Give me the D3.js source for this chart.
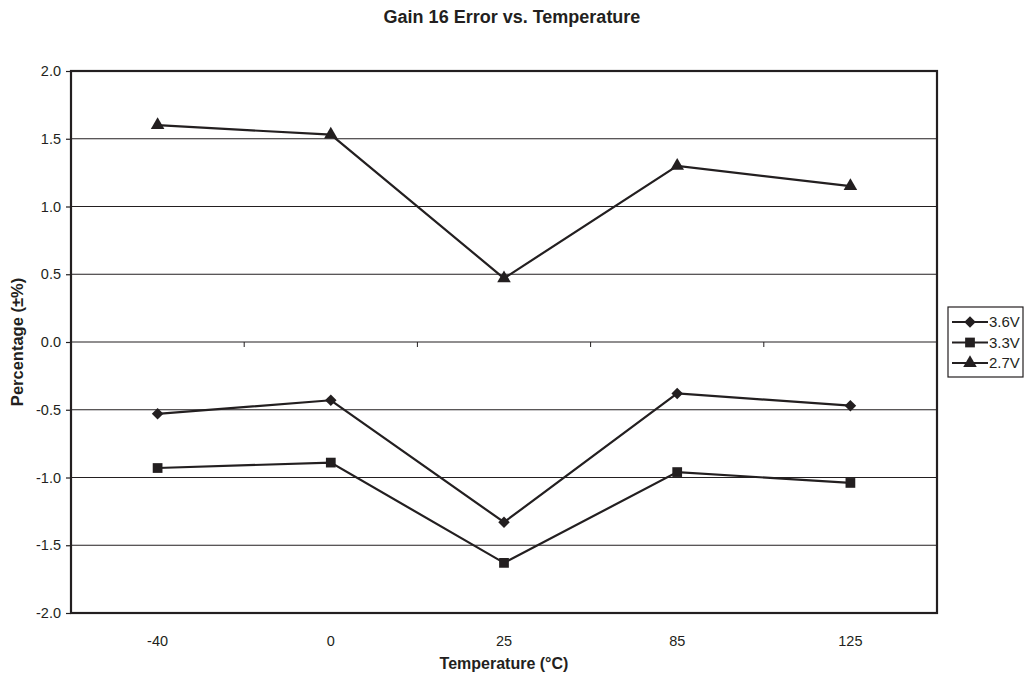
<!DOCTYPE html>
<html>
<head>
<meta charset="utf-8">
<script src="https://cdn.jsdelivr.net/npm/d3@7"></script>
<style>
  body { margin: 0; background: #fff; }
  svg { display: block; font-family: "Liberation Sans", Arial, Helvetica, sans-serif; }
</style>
</head>
<body>
<svg id="chart" width="1026" height="680"></svg>
<script>
const categories = ["-40", "0", "25", "85", "125"];
const seriesNames = ["3.6V", "3.3V", "2.7V"];
const v36 = [-0.53, -0.43, -1.33, -0.38, -0.47];
const v33 = [-0.93, -0.89, -1.63, -0.96, -1.04];
const v27 = [1.60, 1.53, 0.47, 1.30, 1.15];
const yTicks = [-2.0, -1.5, -1.0, -0.5, 0.0, 0.5, 1.0, 1.5, 2.0];

const series = [
  { name: seriesNames[0], values: v36, symbol: d3.symbolDiamond2, size: 85 },
  { name: seriesNames[1], values: v33, symbol: d3.symbolSquare, size: 95 },
  { name: seriesNames[2], values: v27, symbol: d3.symbolTriangle, size: 80 }
];

const ink = "#231f20";
const svg = d3.select("#chart");
const m = { left: 71, right: 937, top: 71, bottom: 613 };

const x = d3.scaleBand().domain(categories).range([m.left, m.right]);
const y = d3.scaleLinear().domain([-2, 2]).range([m.bottom, m.top]);

// gridlines
svg.append("g").selectAll("line").data(yTicks.slice(1, -1)).join("line")
  .attr("x1", m.left).attr("x2", m.right)
  .attr("y1", d => y(d)).attr("y2", d => y(d))
  .attr("stroke", ink).attr("stroke-width", 1.2);

// y axis
const fmt = d => d3.format(".1f")(d).replace("\u2212", "-");
const yAxis = d3.axisLeft(y).tickValues(yTicks).tickFormat(fmt).tickSize(5).tickSizeOuter(0);
const gy = svg.append("g").attr("transform", `translate(${m.left},0)`).call(yAxis);
gy.select(".domain").remove();
gy.selectAll("line").attr("stroke", ink).attr("stroke-width", 1.2);
gy.selectAll("text").attr("font-size", 14.5).attr("fill", ink).attr("x", -10);

// category axis along zero line: ticks at band boundaries
const bounds = categories.slice(1).map(c => x(c));
svg.append("g").selectAll("line").data(bounds).join("line")
  .attr("x1", d => d).attr("x2", d => d)
  .attr("y1", y(0)).attr("y2", y(0) + 5)
  .attr("stroke", ink).attr("stroke-width", 1);

// category labels at bottom
const xAxis = d3.axisBottom(x).tickSize(0);
const gx = svg.append("g").attr("transform", `translate(0,${m.bottom})`).call(xAxis);
gx.select(".domain").remove();
gx.selectAll("text").attr("font-size", 14.5).attr("fill", ink).attr("y", 33).attr("dy", 0);

// plot frame
svg.append("rect")
  .attr("x", m.left).attr("y", m.top)
  .attr("width", m.right - m.left).attr("height", m.bottom - m.top)
  .attr("fill", "none").attr("stroke", ink).attr("stroke-width", 2.2);

// series
const line = d3.line().x((d, i) => x(categories[i]) + x.bandwidth() / 2).y(d => y(d));
series.forEach(s => {
  svg.append("path").datum(s.values).attr("d", line)
    .attr("fill", "none").attr("stroke", ink).attr("stroke-width", 2.2);
  svg.append("g").selectAll("path").data(s.values).join("path")
    .attr("transform", (d, i) => `translate(${x(categories[i]) + x.bandwidth() / 2},${y(d)})`)
    .attr("d", d3.symbol().type(s.symbol).size(s.size))
    .attr("fill", ink);
});

// title
svg.append("text").attr("x", 512).attr("y", 23).attr("text-anchor", "middle")
  .attr("font-size", 18).attr("font-weight", "bold").attr("fill", ink)
  .text("Gain 16 Error vs. Temperature");

// axis titles
svg.append("text").attr("x", 504).attr("y", 669).attr("text-anchor", "middle")
  .attr("font-size", 16).attr("font-weight", "bold").attr("fill", ink)
  .text("Temperature (°C)");
svg.append("text").attr("transform", `translate(23,${y(0)}) rotate(-90)`)
  .attr("text-anchor", "middle")
  .attr("font-size", 16.5).attr("font-weight", "bold").attr("fill", ink)
  .text("Percentage (±%)");

// legend
const lg = svg.append("g");
lg.append("rect").attr("x", 948).attr("y", 307).attr("width", 75).attr("height", 70)
  .attr("fill", "#fff").attr("stroke", ink).attr("stroke-width", 1.2);
const ly = d3.scalePoint().domain(seriesNames).range([322, 363]);
series.forEach(s => {
  const yy = ly(s.name);
  lg.append("line").attr("x1", 952).attr("x2", 988).attr("y1", yy).attr("y2", yy)
    .attr("stroke", ink).attr("stroke-width", 2.2);
  lg.append("path").attr("transform", `translate(970,${yy})`)
    .attr("d", d3.symbol().type(s.symbol).size(s.size)).attr("fill", ink);
  lg.append("text").attr("x", 989).attr("y", yy).attr("dy", "0.36em")
    .attr("font-size", 15).attr("fill", ink).text(s.name);
});
</script>
</body>
</html>
